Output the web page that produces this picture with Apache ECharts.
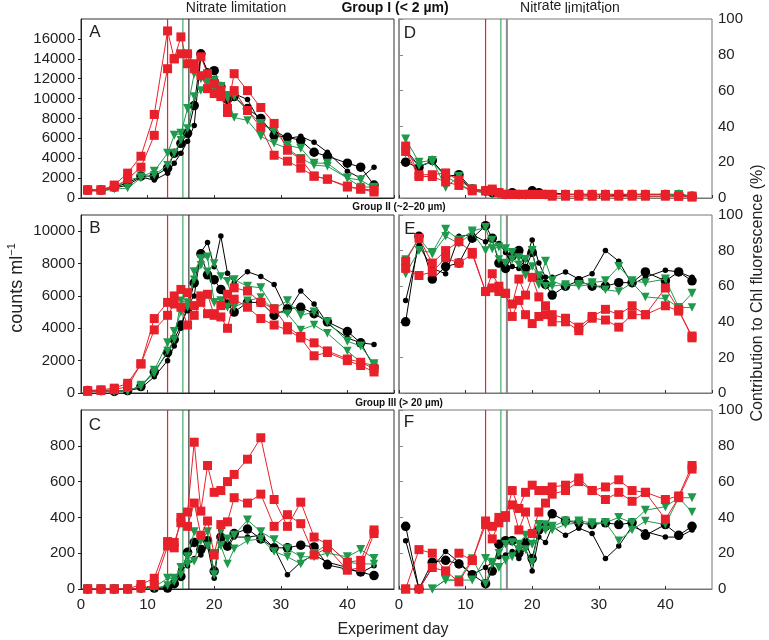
<!DOCTYPE html>
<html><head><meta charset="utf-8">
<script src="https://cdn.jsdelivr.net/npm/echarts@6/dist/echarts.min.js"></script>
<style>html,body{margin:0;padding:0;background:#fff}#c{width:769px;height:640px}</style>
</head><body><div id="c"></div>
<script>
const days = [1,3,5,7,9,11,13,14,15,16,17,18,19,20,21,22,23,25,27,29,31,33,35,37,40,42,44];
const limDays = [13, 15.3, 16.2];
const panelLetters = ['A','B','C','D','E','F'];
const leftMax = [18000, 11000, 1000];
const leftInterval = [2000, 2000, 200];

// Panel A (counts ml-1, group I)
const A_black1 = [800,800,1100,1500,2200,2200,3000,4500,5500,6500,9300,14500,12500,12800,11200,9900,10200,9000,8000,6300,6100,5800,4600,4200,3500,3100,1300];
const A_black2 = [800,700,1000,1300,2100,1800,2500,3500,4500,5700,7300,14300,12800,12000,10800,9000,10500,9900,7500,6800,6000,6200,5600,4600,2700,2000,3100];
const A_green1 = [800,800,1000,1800,2100,2700,4500,6300,6500,9000,12500,12000,12000,11800,11200,10300,10200,8800,7500,6700,5300,5000,3500,3500,2000,1800,1000];
const A_green2 = [700,700,900,1000,2000,2300,3300,4500,5800,7000,10200,10800,11500,11000,11000,10000,8100,7800,6200,5500,5000,4000,3300,3200,2000,1100,1100];
const A_red1 = [800,800,1300,2500,4200,8400,16800,14000,14500,14500,13500,14200,12500,11500,10800,9000,12500,10800,9100,7500,4800,3900,2200,1900,1200,900,800];
const A_red2 = [800,800,1100,1900,3100,6300,13000,14000,16200,13500,13000,12300,11000,10500,10200,8600,10800,8800,7100,4300,3700,3000,2200,1900,1100,900,600];
// Panel B (group II)
const B_black1 = [150,150,100,150,400,1300,2500,3300,4200,5200,6800,8600,7300,7000,6400,5500,5000,5600,5600,4800,5200,5300,4900,4400,3800,3100,1600];
const B_black2 = [100,100,100,150,300,1000,2000,2900,4000,5400,6000,8700,9300,7800,9700,7400,6800,7500,7200,6700,5000,6300,5500,4300,3400,3100,3000];
const B_green1 = [100,150,100,150,400,1400,3100,3800,5000,5300,7500,8300,8400,5600,5700,5300,7000,6600,6500,5200,5700,4800,5000,4400,3200,2900,1800];
const B_green2 = [100,100,100,100,500,1200,2600,3300,5700,5600,7000,7900,7500,8000,7200,6900,5300,5700,5900,5100,4900,3900,4200,3700,2600,1900,1700];
const B_red1 = [150,200,300,600,1800,4600,5600,6000,6400,6200,5400,6000,6100,4800,5400,6100,6500,6300,5600,5200,4100,3500,3100,2600,2100,1900,1500];
const B_red2 = [100,150,200,400,1800,3900,4800,5500,5300,4200,4800,5600,4900,4900,4700,4000,5800,5300,4600,4200,3900,3400,2300,2500,2000,1700,1300];
// Panel C (group III)
const C_black1 = [0,0,0,0,5,5,5,30,70,205,260,220,270,100,290,240,310,335,280,230,230,245,235,135,110,95,75];
const C_black2 = [0,0,0,0,5,5,5,40,110,130,170,190,240,60,330,230,290,290,300,230,80,150,190,150,120,90,130];
const C_green1 = [0,0,0,0,0,10,60,60,120,180,320,270,320,80,330,280,300,385,320,275,225,180,180,200,180,220,170];
const C_green2 = [0,0,0,0,0,5,20,40,80,140,155,290,240,200,240,140,225,270,280,210,180,140,200,250,150,140,140];
const C_red1 = [0,0,0,0,25,60,265,230,400,430,820,435,690,540,550,600,640,725,845,500,350,485,290,250,150,160,330];
const C_red2 = [0,0,0,0,5,20,240,260,370,350,480,300,380,190,360,375,510,480,530,350,415,365,190,230,105,120,310];
// Panel D (% contribution, group I)
const D_black1 = [20,17,21,12,13,5,4,3,3,2,3,2,2,4,3,2,2,2,2,2,2,2,2,2,2,2,1];
const D_black2 = [27,18,20,13,12,4,3,3,2,2,2,3,2,3,2,2,3,2,2,2,2,1,2,2,2,2,1];
const D_green1 = [33,20,21,6,12,5,3,3,2,2,2,2,2,2,2,2,2,2,2,2,2,2,2,2,2,2,1];
const D_green2 = [25,18,20,12,8,4,3,3,2,2,2,2,2,2,2,2,2,2,2,1,1,1,1,1,1,1,1];
const D_red1 = [29,13,13,14,10,5,4,5,3,2,2,2,2,2,2,2,2,2,2,2,2,2,2,2,2,1,1];
const D_red2 = [26,12,12,9,7,4,4,4,3,2,2,2,2,2,2,2,1,1,1,1,1,1,1,1,1,1,0.5];
// Panel E (group II)
const E_black1 = [40,88,64,71,73,87,94,87,73,70,77,80,70,79,65,61,55,60,63,60,60,62,62,68,63,68,63];
const E_black2 = [52,83,70,67,88,89,85,86,84,79,71,70,75,86,73,65,65,68,64,67,80,74,61,65,69,68,65];
const E_green1 = [67,80,79,92,86,91,93,81,82,81,79,76,75,80,61,74,63,60,61,62,63,71,63,62,64,48,56];
const E_green2 = [75,87,78,88,84,90,80,86,75,73,75,72,66,71,66,60,60,61,60,61,58,57,62,54,53,48,48];
const E_red1 = [74,87,73,80,85,79,57,67,60,56,50,64,55,65,54,49,44,42,37,43,47,44,49,44,59,47,31];
const E_red2 = [70,66,68,76,73,78,57,59,57,56,43,52,44,39,43,44,40,40,35,42,41,37,44,44,49,46,32];
// Panel F (group III)
const F_black1 = [35,0,15,16,14,8,3,10,25,27,27,20,26,17,33,35,42,38,37,36,37,36,37,30,36,30,35];
const F_black2 = [27,0,12,21,15,8,12,15,18,19,21,17,23,10,29,26,35,30,34,31,17,24,35,32,29,29,33];
const F_green1 = [null,null,0,5,5,5,17,15,12,16,18,25,30,25,36,33,35,38,38,37,37,40,37,44,46,51,51];
const F_green2 = [null,null,0,5,5,17,3,14,20,25,26,22,22,15,33,36,33,36,37,36,37,27,33,38,36,51,43];
const F_red1 = [0,22,20,10,20,16,38,35,40,41,55,45,54,58,55,55,57,58,62,55,57,61,55,54,50,52,69];
const F_red2 = [0,0,12,10,4,16,36,28,37,40,47,33,43,31,43,48,53,55,60,55,50,54,49,54,39,51,67];

const panels = [
  [A_black1,A_black2,A_green1,A_green2,A_red1,A_red2],
  [B_black1,B_black2,B_green1,B_green2,B_red1,B_red2],
  [C_black1,C_black2,C_green1,C_green2,C_red1,C_red2],
  [D_black1,D_black2,D_green1,D_green2,D_red1,D_red2],
  [E_black1,E_black2,E_green1,E_green2,E_red1,E_red2],
  [F_black1,F_black2,F_green1,F_green2,F_red1,F_red2]
];

const FONT = 'Liberation Sans, Arial, sans-serif';
const RED = '#e8202a', GREEN = '#1f9a4c', BLACK = '#000000';
const styles = [
  {color:BLACK, symbol:'circle', size:9.5, rot:0},
  {color:BLACK, symbol:'circle', size:5.5, rot:0},
  {color:GREEN, symbol:'triangle', size:9, rot:180},
  {color:GREEN, symbol:'triangle', size:8.5, rot:180},
  {color:RED, symbol:'rect', size:9, rot:0},
  {color:RED, symbol:'rect', size:9, rot:0}
];

const rowTops = [19, 215, 410];
const rowH = [179, 178, 179];
const colLeft = [81, 399];
const colW = 313;

const grids = [], xAxes = [], yAxes = [], series = [];
for (let p = 0; p < 6; p++) {
  const col = p < 3 ? 0 : 1, row = p % 3;
  const isRight = col === 1;
  const yMax = isRight ? 100 : leftMax[row];
  grids.push({left: colLeft[col], top: rowTops[row], width: colW, height: rowH[row],
    show: true, borderColor: isRight ? '#777' : '#333', borderWidth: 1, backgroundColor: 'transparent'});
  xAxes.push({type:'value', gridIndex:p, min:0, max:47, interval:10,
    axisLine:{show:true, onZero:false, lineStyle:{color: isRight ? '#777' : '#222', width:1}},
    axisTick:{show:true, inside:true, length:3, lineStyle:{color:'#333'}},
    splitLine:{show:false},
    axisLabel:{show: row === 2, showMaxLabel:false, fontFamily:FONT, fontSize:15, color:'#222', margin:8}
  });
  yAxes.push(isRight ? {type:'value', gridIndex:p, position:'right', min:0, max:100, interval:20,
      axisLine:{show:true, lineStyle:{color:'#888', width:1.5}},
      axisTick:{show:true, inside:false, length:4, lineStyle:{color:'#888'}},
      splitLine:{show:false},
      axisLabel:{fontFamily:FONT, fontSize:15, color:'#222', margin:6, align:'left'}}
    : {type:'value', gridIndex:p, position:'left', min:0, max:leftMax[row], interval:leftInterval[row],
      axisLine:{show:true, lineStyle:{color:'#222', width:1}},
      axisTick:{show:true, inside:false, length:3, lineStyle:{color:'#222'}},
      splitLine:{show:false},
      axisLabel:{showMaxLabel:false, fontFamily:FONT, fontSize:15, color:'#222', margin:6,
        formatter: v => String(v)}});
  // nitrate limitation onset lines (red, green, black treatments)
  const limColors = ['#f0202a', GREEN, isRight ? '#8a8a8a' : '#111'];
  const limWidths = [1.2, 1, isRight ? 2 : 1];
  limDays.forEach((d, j) => {
    series.push({type:'line', xAxisIndex:p, yAxisIndex:p, data:[[d, 0], [d, yMax]],
      symbol:'none', lineStyle:{color:limColors[j], width:limWidths[j]}, silent:true,
      animation:false, z:2, emphasis:{disabled:true}});
  });
  panels[p].forEach((arr, k) => {
    const st = styles[k];
    series.push({
      type:'line', xAxisIndex:p, yAxisIndex:p,
      data: days.map((d, i) => [d, arr[i]]),
      symbol: st.symbol, symbolSize: st.size, symbolRotate: st.rot,
      showAllSymbol: true, connectNulls: false,
      lineStyle:{color: st.color, width:1},
      itemStyle:{color: st.color, borderWidth:0},
      emphasis:{disabled:true}, silent:true, animation:false, z: 3 + k
    });
  });
}

const tok = {fontFamily:FONT, fontSize:14, fill:'#222', lineHeight:17};
const letterPos = [[95,32],[95,228],[95,425],[410,33],[410,229],[409,422]];
const graphic = [
  {type:'text', x:236, y:8, style:{text:'Nitrate limitation', font:'14px '+FONT, fill:'#222', textAlign:'center', textVerticalAlign:'middle'}},
  {type:'text', x:395, y:8, style:{text:'Group I (< 2 µm)', font:'bold 14px '+FONT, fill:'#111', textAlign:'center', textVerticalAlign:'middle'}},
  {type:'text', x:570, y:8, style:{text:'{n|Nit}{u|rate} {d|li}{n|m}{d|i}{n|t}{u|at}{d|i}{n|on}', textAlign:'center', textVerticalAlign:'middle',
    rich:{n:Object.assign({verticalAlign:'middle'}, tok), u:Object.assign({verticalAlign:'top'}, tok), d:Object.assign({verticalAlign:'bottom'}, tok)}}},
  {type:'text', x:399, y:207, style:{text:'Group II (~2–20 µm)', font:'bold 10px '+FONT, fill:'#111', textAlign:'center', textVerticalAlign:'middle'}},
  {type:'text', x:399, y:403, style:{text:'Group III (> 20 µm)', font:'bold 10px '+FONT, fill:'#111', textAlign:'center', textVerticalAlign:'middle'}},
  {type:'text', x:393, y:630, style:{text:'Experiment day', font:'16px '+FONT, fill:'#222', textAlign:'center', textVerticalAlign:'middle'}},
  {type:'text', x:758, y:293, rotation:Math.PI/2, style:{text:'Contribution to Chl fluorescence (%)', font:'16px '+FONT, fill:'#222', textAlign:'center', textVerticalAlign:'middle'}},
  {type:'text', x:16, y:288, rotation:Math.PI/2, style:{text:'{a|counts ml}{b|−1}', textAlign:'center', textVerticalAlign:'middle',
    rich:{a:{fontFamily:FONT, fontSize:18, fill:'#222', lineHeight:20, verticalAlign:'bottom'}, b:{fontFamily:FONT, fontSize:11, fill:'#222', verticalAlign:'top', lineHeight:20}}}}
];
panelLetters.forEach((L, i) => {
  graphic.push({type:'text', x:letterPos[i][0], y:letterPos[i][1], style:{text:L, font:'17px '+FONT, fill:'#222', textAlign:'center', textVerticalAlign:'middle'}});
});

const chart = echarts.init(document.getElementById('c'), null, {renderer:'canvas'});
chart.setOption({animation:false, grid:grids, xAxis:xAxes, yAxis:yAxes, series:series, graphic:graphic});
</script></body></html>
